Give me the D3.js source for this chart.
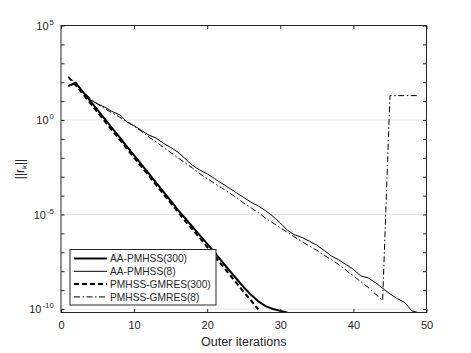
<!DOCTYPE html>
<html>
<head>
<meta charset="utf-8">
<script src="https://d3js.org/d3.v7.min.js"></script>
<style>
  body { margin: 0; background: #fff; }
  svg text { font-family: "Liberation Sans", Arial, sans-serif; fill: #262626; }
</style>
</head>
<body>
<div id="chart"></div>
<script>
// iteration numbers
var iters = d3.range(1, 51);

// log10 of ||r_k||
var aaPmhss300 = [1.8, 1.97, 1.49, 1.01, 0.53, 0.05, -0.43, -0.91, -1.39, -1.87,
  -2.35, -2.83, -3.31, -3.79, -4.27, -4.75, -5.2, -5.65, -6.1, -6.55,
  -7.0, -7.48, -7.95, -8.4, -8.85, -9.25, -9.6, -9.85, -10.0, -10.1, -10.2];
var aaPmhss8 = [1.8, 1.97, 1.45, 1.06, 0.85, 0.68, 0.45, 0.28, -0.1, -0.3,
  -0.55, -0.8, -0.95, -1.23, -1.45, -1.7, -2.05, -2.4, -2.65, -2.85,
  -3.1, -3.35, -3.6, -3.85, -4.1, -4.35, -4.55, -4.8, -5.1, -5.45,
  -5.85, -6.08, -6.22, -6.42, -6.62, -6.9, -7.2, -7.4, -7.65, -7.9,
  -8.25, -8.35, -8.6, -8.9, -9.2, -9.45, -9.65, -10.1, -10.2, -10.22];
var gmres300 = [2.28, 1.85, 1.37, 0.89, 0.41, -0.07, -0.55, -1.03, -1.51, -1.99,
  -2.47, -2.95, -3.43, -3.91, -4.39, -4.87, -5.35, -5.8, -6.25, -6.72,
  -7.2, -7.67, -8.15, -8.62, -9.1, -9.55, -10.02];
var gmres8 = [2.28, 1.95, 1.5, 1.15, 0.85, 0.6, 0.38, 0.15, -0.08, -0.32,
  -0.6, -0.9, -1.15, -1.45, -1.72, -2.0, -2.27, -2.55, -2.85, -3.1,
  -3.35, -3.6, -3.85, -4.1, -4.4, -4.65, -4.9, -5.2, -5.45, -5.7,
  -5.95, -6.2, -6.45, -6.67, -6.9, -7.15, -7.4, -7.65, -7.95, -8.25,
  -8.55, -8.85, -9.2, -9.55, 1.29, 1.29, 1.29, 1.29, 1.29];

var seriesNames = ["AA-PMHSS(300)", "AA-PMHSS(8)", "PMHSS-GMRES(300)", "PMHSS-GMRES(8)"];
var xTicks = [0, 10, 20, 30, 40, 50];
var yLabelExp = [5, 0, -5, -10];

var width = 471, height = 353;
var margin = {top: 25.5, right: 44.5, bottom: 40.5, left: 61};
var w = width - margin.left - margin.right,
    h = height - margin.top - margin.bottom;

var svg = d3.select("#chart").append("svg")
  .attr("width", width)
  .attr("height", height);

var g = svg.append("g")
  .attr("transform", "translate(" + margin.left + "," + margin.top + ")");

var x = d3.scaleLinear().domain([0, 50]).range([0, w]);
var y = d3.scaleLog().domain([Math.pow(10, -10.185), 1e5]).range([h, 0]);

// grid lines at the labelled decades
g.selectAll(".grid")
  .data(yLabelExp)
  .enter().append("line")
  .attr("x1", 0).attr("x2", w)
  .attr("y1", function(d) { return y(Math.pow(10, d)); })
  .attr("y2", function(d) { return y(Math.pow(10, d)); })
  .attr("stroke", "#e6e6e6")
  .attr("stroke-width", 1);

g.append("clipPath").attr("id", "clip")
  .append("rect").attr("width", w).attr("height", h);

var line = d3.line()
  .x(function(d, i) { return x(iters[i]); })
  .y(function(d) { return y(Math.pow(10, d)); });

var styles = [
  {data: aaPmhss300, sw: 2, dash: null},
  {data: aaPmhss8, sw: 1, dash: null},
  {data: gmres300, sw: 2, dash: "5,3"},
  {data: gmres8, sw: 1, dash: "6,2.5,1.5,2.5"}
];

var plot = g.append("g").attr("clip-path", "url(#clip)");
styles.forEach(function(s) {
  plot.append("path")
    .datum(s.data)
    .attr("d", line)
    .attr("fill", "none")
    .attr("stroke", "#000")
    .attr("stroke-width", s.sw)
    .attr("stroke-dasharray", s.dash);
});

// axes box
var decades = d3.range(-10, 6);
var axisCol = "#262626";

g.append("rect")
  .attr("width", w).attr("height", h)
  .attr("fill", "none").attr("stroke", axisCol).attr("stroke-width", 1);

// bottom and top ticks
var bottomAxis = g.append("g")
  .attr("transform", "translate(0," + h + ")")
  .call(d3.axisBottom(x).tickValues(xTicks).tickSizeInner(-3.5).tickSizeOuter(0).tickPadding(9));
bottomAxis.select(".domain").remove();
bottomAxis.selectAll("line").attr("stroke", axisCol);
bottomAxis.selectAll("text").style("font-size", "11px").attr("fill", axisCol);

var topAxis = g.append("g")
  .call(d3.axisTop(x).tickValues(xTicks).tickSizeInner(-3.5).tickSizeOuter(0).tickFormat(""));
topAxis.select(".domain").remove();
topAxis.selectAll("line").attr("stroke", axisCol);

// left and right decade ticks
var leftAxis = g.append("g")
  .call(d3.axisLeft(y).tickValues(decades.map(function(d) { return Math.pow(10, d); }))
    .tickSizeInner(-3.5).tickSizeOuter(0).tickFormat(""));
leftAxis.select(".domain").remove();
leftAxis.selectAll("line").attr("stroke", axisCol);

var rightAxis = g.append("g")
  .attr("transform", "translate(" + w + ",0)")
  .call(d3.axisRight(y).tickValues(decades.map(function(d) { return Math.pow(10, d); }))
    .tickSizeInner(-3.5).tickSizeOuter(0).tickFormat(""));
rightAxis.select(".domain").remove();
rightAxis.selectAll("line").attr("stroke", axisCol);

// y tick labels 10^n
yLabelExp.forEach(function(e) {
  var t = g.append("text")
    .attr("x", -7)
    .attr("y", y(Math.pow(10, e)) + 4)
    .attr("text-anchor", "end")
    .style("font-size", "11px");
  t.append("tspan").text("10");
  t.append("tspan").attr("dy", -5).attr("dx", 1).style("font-size", "8px").text(e);
});

// axis labels
svg.append("text")
  .attr("x", margin.left + w / 2)
  .attr("y", 346)
  .attr("text-anchor", "middle")
  .style("font-size", "12.5px")
  .text("Outer iterations");

var yl = svg.append("text")
  .attr("transform", "translate(24," + (margin.top + h / 2) + ") rotate(-90)")
  .attr("text-anchor", "middle")
  .style("font-size", "12px");
yl.append("tspan").text("||r");
yl.append("tspan").attr("dy", 3).style("font-size", "8px").text("k");
yl.append("tspan").attr("dy", -3).text("||");

// legend
var lg = svg.append("g").attr("transform", "translate(70,249.5)");
lg.append("rect")
  .attr("width", 146).attr("height", 55.5)
  .attr("fill", "#fff").attr("stroke", axisCol).attr("stroke-width", 1);
seriesNames.forEach(function(name, i) {
  var yy = 9 + i * 12.8;
  lg.append("line")
    .attr("x1", 4).attr("x2", 37)
    .attr("y1", yy).attr("y2", yy)
    .attr("stroke", "#000")
    .attr("stroke-width", styles[i].sw)
    .attr("stroke-dasharray", styles[i].dash);
  lg.append("text")
    .attr("x", 40).attr("y", yy + 3.8)
    .style("font-size", "10.2px")
    .text(name);
});
</script>
</body>
</html>
